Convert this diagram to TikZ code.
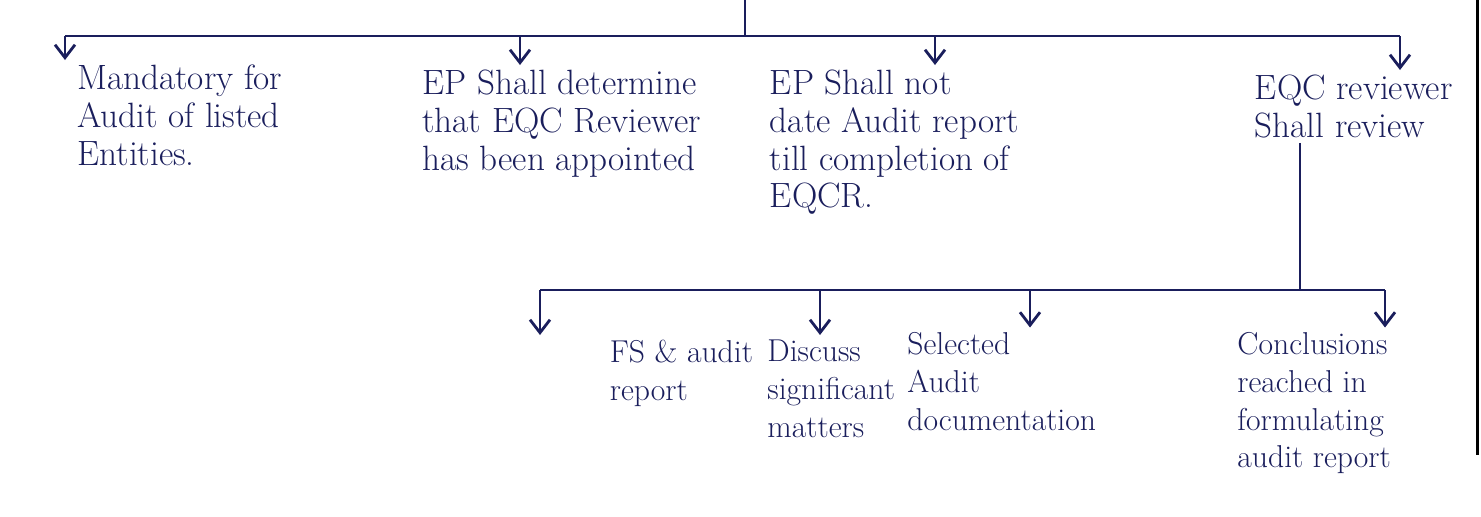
\documentclass[tikz,border=0pt]{standalone}
\usepackage{tikz}
\usetikzlibrary{arrows.meta}
\definecolor{ink}{RGB}{26,30,92}

\begin{document}
\begin{tikzpicture}[line width=1.6pt, draw=ink,
    every node/.style={font=\fontsize{20}{21.5}\selectfont, text=ink},
    note/.style={align=left, anchor=north west, inner sep=2pt},
    subnote/.style={note, font=\fontsize{18}{21.5}\selectfont},
    link/.style={-{Straight Barb[length=2.6mm,width=4mm]}}]
    \useasboundingbox (0,0) rectangle (29.62,-10.32);
    % top level
    \coordinate (stem) at (14.9,0);
    \coordinate (b1) at (1.3,-0.72);
    \coordinate (b2) at (10.4,-0.72);
    \coordinate (b3) at (18.7,-0.72);
    \coordinate (b4) at (28.0,-0.72);
    \node[note] (mand) at (1.45,-1.2) {Mandatory for\\Audit of listed\\Entities.};
    \node[note] (apptd) at (8.35,-1.3) {EP Shall determine\\that EQC Reviewer\\has been appointed};
    \node[note] (datenot) at (15.3,-1.3) {EP Shall not\\date Audit report\\till completion of\\EQCR.};
    \node[note] (eqcr) at (25.0,-1.4) {EQC reviewer\\Shall review};
    \draw (stem) -- (stem |- b1);
    \draw (b1) -- (b4);
    \draw[link] (b1) -- (b1 |- mand.north);
    \draw[link] (b2) -- (b2 |- apptd.north);
    \draw[link] (b3) -- (b3 |- datenot.north);
    \draw[link] (b4) -- (b4 |- eqcr.north);
    % what the reviewer looks at
    \coordinate (v) at (26.0,-5.8);
    \coordinate (c1) at (10.8,-5.8);
    \coordinate (c2) at (16.4,-5.8);
    \coordinate (c3) at (20.6,-5.8);
    \coordinate (c4) at (27.7,-5.8);
    \node[subnote] (fsar) at (12.1,-6.7) {FS \& audit\\report};
    \node[subnote] (disc) at (15.25,-6.7) {Discuss\\significant\\matters};
    \node[subnote] (seld) at (18.05,-6.55) {Selected\\Audit\\documentation};
    \node[subnote] (concl) at (24.65,-6.55) {Conclusions\\reached in\\formulating\\audit report};
    \draw (v |- eqcr.south) -- (v);
    \draw (c1) -- (c4);
    \draw[link] (c1) -- (c1 |- fsar.north);
    \draw[link] (c2) -- (c2 |- disc.north);
    \draw[link] (c3) -- (c3 |- seld.north);
    \draw[link] (c4) -- (c4 |- concl.north);
    % edge of the sheet
    \draw[black, line width=2pt] (29.55,0) -- (29.55,-9.1);
  \end{tikzpicture}
\end{document}
